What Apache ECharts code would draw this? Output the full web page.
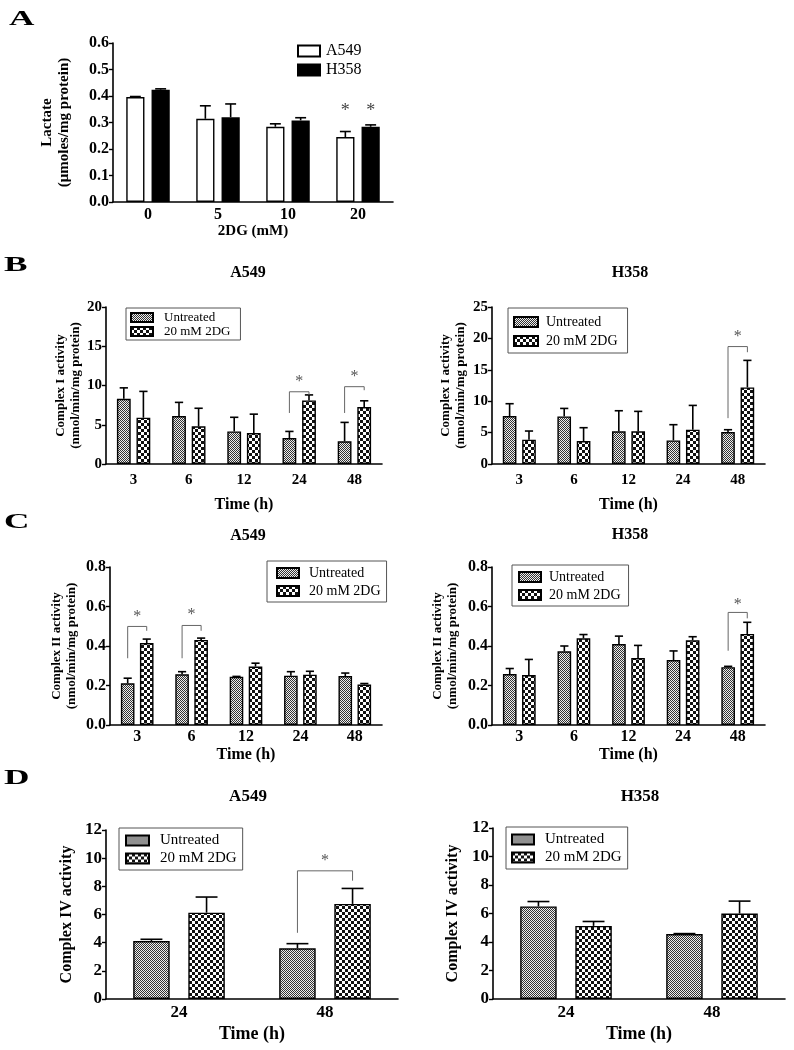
<!DOCTYPE html>
<html><head><meta charset="utf-8">
<script src="https://cdn.jsdelivr.net/npm/echarts@6/dist/echarts.min.js"></script>
<style>html,body{margin:0;padding:0;background:#fff}#c{width:794px;height:1050px}</style>
</head><body><div id="c"></div>
<script>
// ---------- DATA ----------
const aCats = ['0', '5', '10', '20'];
const aA549 = [0.396, 0.314, 0.284, 0.245];
const aA549Err = [0.002, 0.049, 0.011, 0.021];
const aH358 = [0.424, 0.320, 0.308, 0.284];
const aH358Err = [0.003, 0.050, 0.010, 0.007];
const aStarsA549 = [[3, 0.342]];
const aStarsH358 = [[3, 0.342]];

const timeCats = ['3', '6', '12', '24', '48'];
const bA549Untr = [8.3, 6.1, 4.15, 3.3, 2.9];
const bA549UntrErr = [1.4, 1.75, 1.8, 0.85, 2.4];
const bA549Dg = [5.9, 4.8, 3.95, 8.1, 7.25];
const bA549DgErr = [3.35, 2.3, 2.4, 0.7, 0.8];
const bA549Sig = [[3, 6.5, 9.2, 8.8, 10.5], [4, 6.5, 9.85, 9.4, 11.1]]; // cat, left foot, top, right foot, star

const bH358Untr = [7.63, 7.58, 5.2, 3.76, 5.09];
const bH358UntrErr = [1.97, 1.27, 3.28, 2.5, 0.37];
const bH358Dg = [3.87, 3.66, 5.2, 5.46, 12.2];
const bH358DgErr = [1.38, 2.12, 3.18, 3.87, 4.3];
const bH358Sig = [[4, 7.3, 18.7, 17.8, 20.2]];

const cA549Untr = [0.211, 0.257, 0.244, 0.25, 0.248];
const cA549UntrErr = [0.026, 0.013, 0.002, 0.02, 0.015];
const cA549Dg = [0.415, 0.431, 0.296, 0.255, 0.205];
const cA549DgErr = [0.02, 0.009, 0.017, 0.017, 0.005];
const cA549Sig = [[0, 0.338, 0.499, 0.477, 0.55], [1, 0.338, 0.504, 0.477, 0.558]];

const cH358Untr = [0.258, 0.373, 0.41, 0.329, 0.293];
const cH358UntrErr = [0.028, 0.027, 0.04, 0.046, 0.004];
const cH358Dg = [0.253, 0.439, 0.339, 0.429, 0.461];
const cH358DgErr = [0.079, 0.019, 0.064, 0.018, 0.059];
const cH358Sig = [[4, 0.376, 0.57, 0.54, 0.61]];

const dCats = ['24', '48'];
const dA549Untr = [4.12, 3.6];
const dA549UntrErr = [0.12, 0.33];
const dA549Dg = [6.13, 6.75];
const dA549DgErr = [1.11, 1.1];
const dA549Sig = [[1, 4.7, 9.1, 8.4, 9.8]];

const dH358Untr = [6.5, 4.56];
const dH358UntrErr = [0.34, 0.03];
const dH358Dg = [5.13, 6.0];
const dH358DgErr = [0.31, 0.87];
const dH358Sig = [];

// ---------- STYLE ----------
const FF = 'Liberation Serif';
function makePattern(cell, bg, fg) {
  const cv = document.createElement('canvas');
  cv.width = cell * 2; cv.height = cell * 2;
  const ctx = cv.getContext('2d');
  ctx.fillStyle = bg; ctx.fillRect(0, 0, cell * 2, cell * 2);
  ctx.fillStyle = fg;
  ctx.fillRect(0, 0, cell, cell);
  ctx.fillRect(cell, cell, cell, cell);
  return { image: cv, repeat: 'repeat' };
}
const patUntr = makePattern(1, '#eeeeee', '#333333');
const patDg = makePattern(3, '#ffffff', '#111111');

function errRender(side, pct, gap) {
  return function (params, api) {
    const bw = api.size([1, 0])[0];
    const w = bw * pct;
    const off = side * (w + w * gap) / 2;
    const c = api.value(0);
    const p0 = api.coord([c, api.value(1)]);
    const p1 = api.coord([c, api.value(1) + api.value(2)]);
    const x = p0[0] + off;
    const cap = w * 0.3;
    return { type: 'group', children: [
      { type: 'line', shape: { x1: x, y1: p0[1], x2: x, y2: p1[1] }, style: { stroke: '#000', lineWidth: 1.6 } },
      { type: 'line', shape: { x1: x - cap, y1: p1[1], x2: x + cap, y2: p1[1] }, style: { stroke: '#000', lineWidth: 1.6 } }
    ] };
  };
}
function sigRender(pct, gap) {
  return function (params, api) {
    const bw = api.size([1, 0])[0];
    const w = bw * pct;
    const off = (w + w * gap) / 2;
    const c = api.value(0);
    const xc = api.coord([c, 0])[0];
    const xl = xc - off, xr = xc + off;
    const yl = api.coord([c, api.value(1)])[1];
    const yt = api.coord([c, api.value(2)])[1];
    const yr = api.coord([c, api.value(3)])[1];
    const ys = api.coord([c, api.value(4)])[1];
    return { type: 'group', children: [
      { type: 'polyline', shape: { points: [[xl, yl], [xl, yt], [xr, yt], [xr, yr]] }, style: { stroke: '#666', lineWidth: 1, fill: 'none' } },
      { type: 'text', x: xc, y: ys, style: { text: '*', fill: '#555', font: '16px ' + FF, align: 'center', verticalAlign: 'middle' } }
    ] };
  };
}
function starRender(side, pct, gap) {
  return function (params, api) {
    const bw = api.size([1, 0])[0];
    const w = bw * pct;
    const off = side * (w + w * gap) / 2;
    const p = api.coord([api.value(0), api.value(1)]);
    return { type: 'text', x: p[0] + off, y: p[1], style: { text: '*', fill: '#444', font: '18px ' + FF, align: 'center', verticalAlign: 'middle' } };
  };
}

const grids = [], xAxes = [], yAxes = [], series = [], legends = [];
function panel(cfg) {
  const i = grids.length;
  grids.push(cfg.grid);
  xAxes.push({
    type: 'category', gridIndex: i, data: cfg.cats,
    axisLine: { lineStyle: { color: '#000', width: 1.6 } },
    axisTick: { show: false },
    axisLabel: { color: '#000', fontFamily: FF, fontWeight: 'bold', fontSize: cfg.tickFs, margin: cfg.xMargin },
    name: cfg.xName, nameLocation: 'middle', nameGap: cfg.xNameGap,
    nameTextStyle: { color: '#000', fontFamily: FF, fontWeight: 'bold', fontSize: cfg.xNameFs }
  });
  yAxes.push({
    type: 'value', gridIndex: i, min: 0, max: cfg.yMax, interval: cfg.yInt,
    axisLine: { show: true, lineStyle: { color: '#000', width: 1.6 } },
    axisTick: { show: true, length: 4, lineStyle: { color: '#000', width: 1.4 } },
    splitLine: { show: false },
    axisLabel: { color: '#000', fontFamily: FF, fontWeight: 'bold', fontSize: cfg.tickFs, margin: 4,
      formatter: v => v.toFixed(cfg.dec) },
    name: cfg.yName, nameLocation: 'middle', nameRotate: 90, nameGap: cfg.yNameGap,
    nameTextStyle: { color: '#000', fontFamily: FF, fontWeight: 'bold', fontSize: cfg.yNameFs, lineHeight: cfg.yNameFs + 2 }
  });
  const ss = [cfg.s0, cfg.s1];
  ss.forEach((s, k) => {
    series.push({
      type: 'bar', name: s.name, xAxisIndex: i, yAxisIndex: i, data: s.data,
      barWidth: (cfg.pct * 100) + '%', barGap: (cfg.gap * 100) + '%',
      itemStyle: { color: s.color, borderColor: '#000', borderWidth: 1.4 },
      emphasis: { disabled: true }, animation: false
    });
  });
  ss.forEach((s, k) => {
    series.push({
      type: 'custom', xAxisIndex: i, yAxisIndex: i, z: 5, animation: false,
      data: s.data.map((v, j) => [j, v, s.err[j]]),
      renderItem: errRender(k === 0 ? -1 : 1, cfg.pct, cfg.gap)
    });
  });
  if (cfg.sig && cfg.sig.length) {
    series.push({ type: 'custom', xAxisIndex: i, yAxisIndex: i, z: 6, animation: false,
      data: cfg.sig, renderItem: sigRender(cfg.pct, cfg.gap) });
  }
  if (cfg.stars) {
    cfg.stars.forEach((st, k) => {
      series.push({ type: 'custom', xAxisIndex: i, yAxisIndex: i, z: 6, animation: false,
        data: st, renderItem: starRender(k === 0 ? -1 : 1, cfg.pct, cfg.gap) });
    });
  }
  legends.push(Object.assign({
    orient: 'vertical', icon: 'rect', selectedMode: false,
    data: [cfg.s0.name, cfg.s1.name],
    itemWidth: 22, itemHeight: 10,
    borderColor: '#555', borderWidth: 1,
    textStyle: { color: '#000', fontFamily: FF, fontSize: 14, padding: [0, 0, 0, 5] }
  }, cfg.legend));
}

const untr = (d, e) => ({ name: 'Untreated', data: d, err: e, color: patUntr });
const dg = (d, e) => ({ name: '20 mM 2DG', data: d, err: e, color: patDg });
const lt = (fs, pl) => ({ color: '#000', fontFamily: FF, fontSize: fs, padding: [0, 0, 0, pl] });

panel({ grid: { left: 113, top: 43, width: 280, height: 159 }, cats: aCats,
  yMax: 0.6, yInt: 0.1, dec: 1, tickFs: 16, yName: 'Lactate\n(μmoles/mg protein)', yNameGap: 40, yNameFs: 15,
  xName: '2DG (mM)', xNameGap: 22, xNameFs: 15, xMargin: 5, pct: 0.26, gap: 0.39,
  s0: { name: 'A549', data: aA549, err: aA549Err, color: '#ffffff' },
  s1: { name: 'H358', data: aH358, err: aH358Err, color: '#000000' },
  stars: [aStarsA549, aStarsH358],
  legend: { left: 297, top: 43, borderWidth: 0, padding: 0, itemHeight: 11, itemGap: 3, textStyle: lt(16, 1) } });

panel({ grid: { left: 106, top: 307, width: 276, height: 157 }, cats: timeCats,
  yMax: 20, yInt: 5, dec: 0, tickFs: 15, yName: 'Complex I activity\n(nmol/min/mg protein)', yNameGap: 22, yNameFs: 13,
  xName: 'Time (h)', xNameGap: 33, xNameFs: 16, xMargin: 9, pct: 0.25, gap: 0.42,
  s0: untr(bA549Untr, bA549UntrErr), s1: dg(bA549Dg, bA549DgErr), sig: bA549Sig,
  legend: { left: 126, top: 308, padding: [3, 10, 2, 4], itemGap: 1, itemHeight: 9, textStyle: Object.assign(lt(13, 6), { lineHeight: 11 }) } });

panel({ grid: { left: 492, top: 307, width: 273, height: 157 }, cats: timeCats,
  yMax: 25, yInt: 5, dec: 0, tickFs: 15, yName: 'Complex I activity\n(nmol/min/mg protein)', yNameGap: 24, yNameFs: 13,
  xName: 'Time (h)', xNameGap: 33, xNameFs: 16, xMargin: 9, pct: 0.25, gap: 0.42,
  s0: untr(bH358Untr, bH358UntrErr), s1: dg(bH358Dg, bH358DgErr), sig: bH358Sig,
  legend: { left: 508, top: 308, padding: [7, 10, 5, 5], itemGap: 5, itemWidth: 24, textStyle: lt(14, 3) } });

panel({ grid: { left: 110, top: 567, width: 272, height: 158 }, cats: timeCats,
  yMax: 0.8, yInt: 0.2, dec: 1, tickFs: 16, yName: 'Complex II activity\n(nmol/min/mg protein)', yNameGap: 31, yNameFs: 13,
  xName: 'Time (h)', xNameGap: 22, xNameFs: 16, xMargin: 4, pct: 0.25, gap: 0.4,
  s0: untr(cA549Untr, cA549UntrErr), s1: dg(cA549Dg, cA549DgErr), sig: cA549Sig,
  legend: { left: 267, top: 561, padding: [5, 6, 4, 9], itemGap: 4, textStyle: lt(14, 5) } });

panel({ grid: { left: 492, top: 567, width: 273, height: 158 }, cats: timeCats,
  yMax: 0.8, yInt: 0.2, dec: 1, tickFs: 16, yName: 'Complex II activity\n(nmol/min/mg protein)', yNameGap: 32, yNameFs: 13,
  xName: 'Time (h)', xNameGap: 22, xNameFs: 16, xMargin: 4, pct: 0.25, gap: 0.4,
  s0: untr(cH358Untr, cH358UntrErr), s1: dg(cH358Dg, cH358DgErr), sig: cH358Sig,
  legend: { left: 512, top: 565, padding: [5, 8, 4, 6], itemGap: 4, textStyle: lt(14, 3) } });

panel({ grid: { left: 106, top: 830, width: 292, height: 169 }, cats: dCats,
  yMax: 12, yInt: 2, dec: 0, tickFs: 17, yName: 'Complex IV activity', yNameGap: 30, yNameFs: 16,
  xName: 'Time (h)', xNameGap: 26, xNameFs: 18, xMargin: 5, pct: 0.25, gap: 0.51,
  s0: untr(dA549Untr, dA549UntrErr), s1: dg(dA549Dg, dA549DgErr), sig: dA549Sig,
  legend: { left: 119, top: 828, padding: [5, 6, 4, 6], itemGap: 3, itemWidth: 23, textStyle: lt(15, 6) } });

panel({ grid: { left: 493, top: 828, width: 292, height: 171 }, cats: dCats,
  yMax: 12, yInt: 2, dec: 0, tickFs: 17, yName: 'Complex IV activity', yNameGap: 31, yNameFs: 16,
  xName: 'Time (h)', xNameGap: 26, xNameFs: 18, xMargin: 5, pct: 0.25, gap: 0.51,
  s0: untr(dH358Untr, dH358UntrErr), s1: dg(dH358Dg, dH358DgErr), sig: dH358Sig,
  legend: { left: 506, top: 827, padding: [5, 6, 4, 5], itemGap: 3, textStyle: lt(15, 6) } });

// ---------- TEXT ANNOTATIONS ----------
const letters = [['A', 9, 19], ['B', 4, 265], ['C', 4, 522], ['D', 4, 778]];
const subtitles = [['A549', 248, 273, 16], ['H358', 630, 273, 16], ['A549', 248, 536, 16], ['H358', 630, 535, 16], ['A549', 248, 797, 17], ['H358', 640, 797, 17]];
const graphics = [];
letters.forEach(([t, x, y]) => graphics.push({ type: 'text', x: x, y: y, scaleX: 1.6,
  style: { text: t, fill: '#000', font: 'bold 22px ' + FF, align: 'left', verticalAlign: 'middle' } }));
subtitles.forEach(([t, x, y, fs]) => graphics.push({ type: 'text', x: x, y: y,
  style: { text: t, fill: '#000', font: 'bold ' + fs + 'px ' + FF, align: 'center', verticalAlign: 'middle' } }));

const chart = echarts.init(document.getElementById('c'), null, { renderer: 'canvas' });
chart.setOption({
  backgroundColor: '#ffffff', animation: false,
  grid: grids, xAxis: xAxes, yAxis: yAxes, series: series, legend: legends, graphic: graphics
});
</script></body></html>
